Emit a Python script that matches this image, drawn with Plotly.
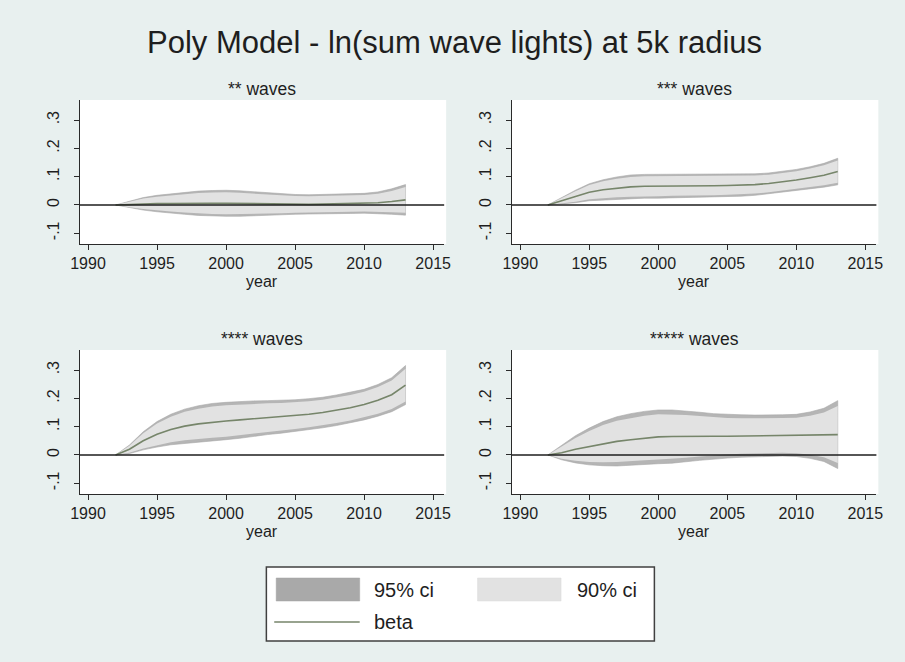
import plotly.graph_objects as go

# ---------------- data ----------------
years = list(range(1992, 2014))

panel_titles = ["** waves", "*** waves", "**** waves", "***** waves"]

beta_2 = [0, 0.002, 0.004, 0.005, 0.005, 0.006, 0.006, 0.006, 0.006, 0.005, 0.004,
          0.003, 0.002, 0.002, 0.002, 0.003, 0.004, 0.005, 0.006, 0.008, 0.012, 0.018]
ci95_2 = [0, 0.012, 0.022, 0.029, 0.034, 0.039, 0.043, 0.045, 0.046, 0.045, 0.043,
          0.040, 0.037, 0.035, 0.034, 0.034, 0.034, 0.035, 0.035, 0.038, 0.045, 0.054]

beta_3 = [0, 0.015, 0.030, 0.045, 0.054, 0.060, 0.064, 0.066, 0.066, 0.067, 0.067,
          0.068, 0.068, 0.069, 0.070, 0.072, 0.076, 0.081, 0.088, 0.096, 0.105, 0.118]
ci95_3 = [0, 0.012, 0.022, 0.030, 0.035, 0.039, 0.042, 0.042, 0.042, 0.041, 0.041,
          0.040, 0.040, 0.0395, 0.039, 0.038, 0.037, 0.037, 0.0375, 0.039, 0.042, 0.047]

beta_4 = [0, 0.020, 0.050, 0.073, 0.090, 0.102, 0.110, 0.116, 0.120, 0.124, 0.128,
          0.132, 0.135, 0.139, 0.144, 0.150, 0.158, 0.167, 0.178, 0.193, 0.213, 0.247]
ci95_4 = [0, 0.015, 0.032, 0.045, 0.054, 0.060, 0.064, 0.066, 0.066, 0.065, 0.063,
          0.060, 0.058, 0.056, 0.055, 0.054, 0.054, 0.054, 0.054, 0.056, 0.060, 0.069]

beta_5 = [0, 0.008, 0.020, 0.030, 0.040, 0.048, 0.054, 0.060, 0.064, 0.065, 0.066,
          0.066, 0.066, 0.066, 0.067, 0.068, 0.068, 0.069, 0.069, 0.070, 0.071, 0.072]
ci95_5 = [0, 0.025, 0.048, 0.065, 0.078, 0.087, 0.092, 0.094, 0.095, 0.094, 0.090,
          0.085, 0.080, 0.077, 0.075, 0.073, 0.0725, 0.073, 0.0745, 0.082, 0.094, 0.120]

betas = [beta_2, beta_3, beta_4, beta_5]
ci95s = [ci95_2, ci95_3, ci95_4, ci95_5]

x_ticks = [1990, 1995, 2000, 2005, 2010, 2015]
y_ticks = [-0.1, 0, 0.1, 0.2, 0.3]
y_tick_labels = ["-.1", "0", ".1", ".2", ".3"]

# ---------------- layout ----------------
W, H = 905, 662
FONT = "Liberation Sans, Arial, Helvetica, sans-serif"
BG = "#e8f0ef"
TXT = "#1e1e1e"
C95 = "#b5b5b5"
C90 = "#e2e2e2"
CBETA = "#76856a"

def px(x):
    return x / W

def py(y):
    return 1 - y / H

# panel pixel boxes (left, right, top, bottom)
boxes = [(72, 443, 100, 244), (512, 883, 100, 244),
         (72, 443, 350, 494), (512, 883, 350, 494)]

fig = go.Figure()
z90 = 1.645 / 1.96

for i in range(4):
    xa = "x" if i == 0 else f"x{i+1}"
    ya = "y" if i == 0 else f"y{i+1}"
    b = betas[i]
    c = ci95s[i]
    lo95 = [bb - cc for bb, cc in zip(b, c)]
    hi95 = [bb + cc for bb, cc in zip(b, c)]
    lo90 = [bb - cc * z90 for bb, cc in zip(b, c)]
    hi90 = [bb + cc * z90 for bb, cc in zip(b, c)]
    fig.add_trace(go.Scatter(x=years + years[::-1], y=hi95 + lo95[::-1], fill="toself",
                             fillcolor=C95, line=dict(color="#a8a8a8", width=0.6),
                             mode="lines", showlegend=False, hoverinfo="skip",
                             xaxis=xa, yaxis=ya))
    fig.add_trace(go.Scatter(x=years + years[::-1], y=hi90 + lo90[::-1], fill="toself",
                             fillcolor=C90, line=dict(color=C90, width=0),
                             mode="lines", showlegend=False, hoverinfo="skip",
                             xaxis=xa, yaxis=ya))
    fig.add_trace(go.Scatter(x=years, y=b, mode="lines",
                             line=dict(color=CBETA, width=1.6),
                             showlegend=False, hoverinfo="skip", xaxis=xa, yaxis=ya))

    l, r, t, bt = boxes[i]
    axkw = dict(showline=True, linecolor="#2a2a2a", linewidth=1.2, ticks="outside",
                ticklen=5, tickcolor="#2a2a2a", showgrid=False, zeroline=False,
                tickfont=dict(family=FONT, size=16, color=TXT))
    fig.layout[("xaxis" if i == 0 else f"xaxis{i+1}")] = dict(
        domain=[px(l), px(r)], range=[1989.4, 2015.8], tickvals=x_ticks,
        anchor=ya, **axkw)
    fig.layout[("yaxis" if i == 0 else f"yaxis{i+1}")] = dict(
        domain=[py(bt), py(t)], range=[-0.138, 0.371], tickvals=y_ticks,
        ticktext=y_tick_labels, tickangle=-90, anchor=xa,
        ticklabelstandoff=8, **axkw)

    # white plot region
    fig.add_shape(type="rect", xref="paper", yref="paper", x0=px(l), x1=px(r + 2),
                  y0=py(bt), y1=py(t), fillcolor="white", line_width=0, layer="below")
    # zero reference line
    fig.add_shape(type="line", xref=f"{xa} domain", yref=ya, x0=0, x1=1, y0=0, y1=0,
                  line=dict(color="#1e1e1e", width=1.6), layer="above")
    # panel title
    fig.add_annotation(x=px((l + r) / 2), y=py(t - 11), xref="paper", yref="paper",
                       text=panel_titles[i], showarrow=False,
                       font=dict(family=FONT, size=17.5, color=TXT),
                       xanchor="center", yanchor="middle")
    # x axis title
    fig.add_annotation(x=px((l + r) / 2), y=py(bt + 37), xref="paper", yref="paper",
                       text="year", showarrow=False,
                       font=dict(family=FONT, size=16, color=TXT),
                       xanchor="center", yanchor="middle")

# main title
fig.add_annotation(x=px(454), y=py(42), xref="paper", yref="paper",
                   text="Poly Model - ln(sum wave lights) at 5k radius", showarrow=False,
                   font=dict(family=FONT, size=31, color=TXT),
                   xanchor="center", yanchor="middle")

# legend (drawn)
fig.add_shape(type="rect", xref="paper", yref="paper", x0=px(262), x1=px(657),
              y0=py(641), y1=py(567), fillcolor="white",
              line=dict(color="#404040", width=1.5))
fig.add_shape(type="rect", xref="paper", yref="paper", x0=px(272), x1=px(357),
              y0=py(601), y1=py(578), fillcolor="#a9a9a9", line=dict(color="#a0a0a0", width=0.5))
fig.add_shape(type="rect", xref="paper", yref="paper", x0=px(477), x1=px(562),
              y0=py(601), y1=py(578), fillcolor=C90, line=dict(color="#dadada", width=0.5))
fig.add_shape(type="line", xref="paper", yref="paper", x0=px(270), x1=px(357),
              y0=py(622), y1=py(622), line=dict(color=CBETA, width=1.6))
for txt, lx, ly in [("95% ci", 370, 590), ("90% ci", 576, 590), ("beta", 370, 622)]:
    fig.add_annotation(x=px(lx), y=py(ly), xref="paper", yref="paper", text=txt,
                       showarrow=False, xanchor="left", yanchor="middle",
                       font=dict(family=FONT, size=20, color=TXT))

fig.update_layout(width=W, height=H, margin=dict(l=0, r=0, t=0, b=0),
                  paper_bgcolor=BG, plot_bgcolor="white", showlegend=False)

fig.write_html("out.html")
